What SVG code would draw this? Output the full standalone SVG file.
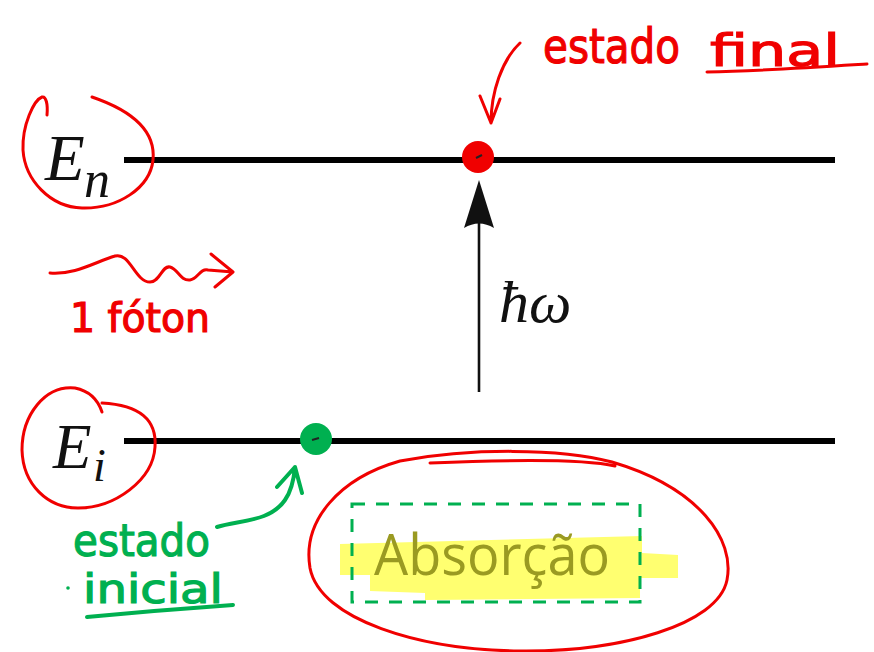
<svg xmlns="http://www.w3.org/2000/svg" width="874" height="652" viewBox="0 0 874 652">
<style>
.lvl{stroke:#000;stroke-width:6;fill:none}
.red{stroke:#f00000;fill:none;stroke-width:3;stroke-linecap:round;stroke-linejoin:round}
.redt{fill:#f00000;stroke:#f00000;stroke-width:1.2;font-family:"DejaVu Sans",sans-serif}
.grn{stroke:#00b050;fill:none;stroke-width:4;stroke-linecap:round;stroke-linejoin:round}
.grnt{fill:#00b050;stroke:#00b050;stroke-width:1.2;font-family:"DejaVu Sans",sans-serif}
.math{font-family:"Liberation Serif",serif;font-style:italic;fill:#111}
</style>
<rect width="874" height="652" fill="#fff"/>
<g id="connectors">
  <path d="M479 392 L479 215" stroke="#111" stroke-width="2.6" fill="none"/>
  <path d="M479 180 L494 228 Q479 219 464 228 Z" fill="#111"/>
</g>
<g id="level-En">
  <line class="lvl" x1="124" y1="160" x2="835" y2="160"/>
  <text class="math" x="45" y="180" font-size="65">E</text>
  <text class="math" x="84" y="197" font-size="52">n</text>
  <path class="red" d="M47 115 C48 104 46 96 42 97 C34 100 22 125 23 150 C25 180 50 207 82 208 C118 209 150 188 153 160 C156 130 130 110 92 97"/>
</g>
<g id="level-Ei">
  <line class="lvl" x1="124" y1="441" x2="835" y2="441"/>
  <text class="math" x="53" y="468" font-size="63">E</text>
  <text class="math" x="93" y="481" font-size="46">i</text>
  <path class="red" d="M102 412 C98 400 90 391 75 388 C45 385 22 415 22 450 C23 485 48 508 78 508 C115 508 153 480 155 447 C157 420 140 405 102 403"/>
</g>
<g id="photon-label">
  <text class="math" x="499" y="322" font-size="60">ħω</text>
</g>
<g id="final-state">
  <circle cx="478" cy="157" r="16" fill="#f00000"/>
  <path d="M476 158 L482 155" stroke="#222" stroke-width="2"/>
  <path class="red" d="M520 43 C502 60 491 92 491 123 M480 96 L491 123 L500 99"/>
  <text class="redt" x="543" y="63" font-size="48" textLength="137" lengthAdjust="spacingAndGlyphs">estado</text>
  <text class="redt" x="710" y="66" font-size="44" textLength="130" lengthAdjust="spacingAndGlyphs">final</text>
  <path class="red" d="M707 72 C760 71 820 67 867 64"/>
</g>
<g id="photon">
  <path class="red" stroke-width="4.5" d="M50 273 C75 275 95 262 115 256 C130 252 135 282 150 282 C160 282 162 265 170 267 C178 269 180 281 190 280 C198 279 200 268 208 270 L233 272 M211 254 L233 272 L215 287"/>
  <text class="redt" x="70" y="332" font-size="40" textLength="140" lengthAdjust="spacingAndGlyphs">1 fóton</text>
</g>
<g id="initial-state">
  <circle cx="316" cy="439" r="16" fill="#00b050"/>
  <path d="M312 440 L319 438" stroke="#222" stroke-width="2"/>
  <path class="grn" d="M217 527 C240 520 270 522 285 500 C292 490 294 478 295 467 M277 487 L295 467 L302 493"/>
  <text class="grnt" x="73" y="556" font-size="44" textLength="137" lengthAdjust="spacingAndGlyphs">estado</text>
  <text class="grnt" x="83" y="603" font-size="40" textLength="140" lengthAdjust="spacingAndGlyphs">inicial</text>
  <circle cx="68" cy="588" r="1.8" fill="#00b050"/>
  <path class="grn" d="M87 617 C140 612 190 608 233 605"/>
</g>
<g id="absorcao">
  <polygon points="340,544 642,536 642,553 678,555 678,578 640,578 640,598 425,600 425,593 370,591 370,575 340,575" fill="#ffff70"/>
  <rect x="352" y="504" width="288" height="98" fill="none" stroke="#00b050" stroke-width="3" stroke-dasharray="13 11"/>
  <text x="374" y="575" font-family="'Open Sans',sans-serif" font-size="56" fill="#9a9a22" textLength="236" lengthAdjust="spacingAndGlyphs">Absorção</text>
  <path class="red" d="M400 461 C470 448 560 448 612 462 C700 488 735 540 727 580 C718 625 620 652 520 651 C420 650 320 620 310 568 C302 520 340 478 400 461 M430 463 C500 460 580 458 615 466"/>
</g>
</svg>
